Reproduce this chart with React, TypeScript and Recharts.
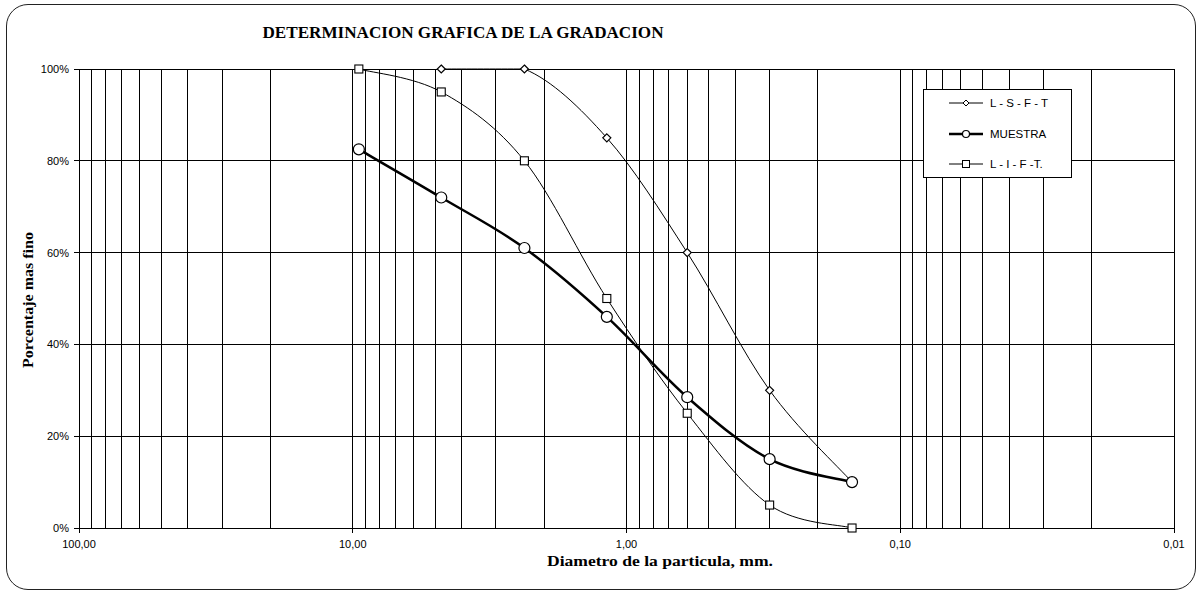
import React from 'react';
import { LineChart, Line, XAxis, YAxis, CartesianGrid, ReferenceLine, Legend } from 'recharts';

// sieve openings (mm) and passing percentages
const SIZES = [9.5, 4.75, 2.36, 1.18, 0.6, 0.3, 0.15];
const LSFT = [null, 100, 100, 85, 60, 30, 10];
const MUESTRA = [82.5, 72, 61, 46, 28.5, 15, 10];
const LIFT = [100, 95, 80, 50, 25, 5, 0];

const X_TICKS = [100, 10, 1, 0.1, 0.01];
const X_MINOR = [
  90, 80, 70, 60, 50, 40, 30, 20,
  9, 8, 7, 6, 5, 4, 3, 2,
  0.9, 0.8, 0.7, 0.6, 0.5, 0.4, 0.3, 0.2,
  0.09, 0.08, 0.07, 0.06, 0.05, 0.04, 0.03, 0.02,
];
const Y_TICKS = [0, 20, 40, 60, 80, 100];

const data = SIZES.map((size, i) => ({
  size,
  lsft: LSFT[i],
  muestra: MUESTRA[i],
  lift: LIFT[i],
}));

const SANS = '"Liberation Sans", Arial, sans-serif';
const SERIF = '"Liberation Serif", "Times New Roman", serif';

const clamp = (v: number, a: number, b: number) => Math.max(Math.min(a, b), Math.min(Math.max(a, b), v));

// excel-like smoothed line, control points kept inside each segment's y range
function excelCurve(context: any) {
  let pts: number[][] = [];
  return {
    areaStart() {},
    areaEnd() {},
    lineStart() {
      pts = [];
    },
    point(x: number, y: number) {
      pts.push([+x, +y]);
    },
    lineEnd() {
      if (!pts.length) return;
      context.moveTo(pts[0][0], pts[0][1]);
      for (let i = 0; i < pts.length - 1; i++) {
        const p0 = pts[i - 1] || pts[i];
        const p1 = pts[i];
        const p2 = pts[i + 1];
        const p3 = pts[i + 2] || p2;
        context.bezierCurveTo(
          p1[0] + (p2[0] - p0[0]) / 6,
          clamp(p1[1] + (p2[1] - p0[1]) / 6, p1[1], p2[1]),
          p2[0] - (p3[0] - p1[0]) / 6,
          clamp(p2[1] - (p3[1] - p1[1]) / 6, p1[1], p2[1]),
          p2[0],
          p2[1]
        );
      }
    },
  };
}

const Diamond = (props: any) => {
  const { cx, cy, key } = props;
  if (cx == null || cy == null || props.value == null) return <g key={key} />;
  const r = 4;
  return (
    <path
      key={key}
      d={`M${cx},${cy - r}L${cx + r},${cy}L${cx},${cy + r}L${cx - r},${cy}Z`}
      fill="#fff"
      stroke="#000"
      strokeWidth={1.2}
    />
  );
};

const Circle = (props: any) => {
  const { cx, cy, key } = props;
  if (cx == null || cy == null) return <g key={key} />;
  return <circle key={key} cx={cx} cy={cy} r={5.5} fill="#fff" stroke="#000" strokeWidth={1.2} />;
};

const Square = (props: any) => {
  const { cx, cy, key } = props;
  if (cx == null || cy == null) return <g key={key} />;
  return <rect key={key} x={cx - 4} y={cy - 4} width={8} height={8} fill="#fff" stroke="#000" strokeWidth={1.1} />;
};

const LEGEND_ROWS = [
  { name: 'L - S - F - T', width: 1, marker: 'diamond' },
  { name: 'MUESTRA', width: 2.5, marker: 'circle' },
  { name: 'L - I - F -T.', width: 1, marker: 'square' },
];

function renderLegend() {
  return (
    <div
      style={{
        width: 147,
        height: 87,
        border: '1px solid #000',
        background: '#fff',
        fontFamily: SANS,
        fontSize: 11.5,
        color: '#000',
      }}
    >
      {LEGEND_ROWS.map((row, i) => (
        <div key={row.name} style={{ position: 'absolute', left: 26, top: 5 + i * 30.5, height: 18, display: 'flex', alignItems: 'center' }}>
          <svg width={36} height={18}>
            <line x1={0} y1={9} x2={34} y2={9} stroke="#000" strokeWidth={row.width} />
            {row.marker === 'diamond' && <path d="M17,6L20,9L17,12L14,9Z" fill="#fff" stroke="#000" />}
            {row.marker === 'circle' && <circle cx={17} cy={9} r={3.5} fill="#fff" stroke="#000" strokeWidth={1.2} />}
            {row.marker === 'square' && <rect x={13.5} y={5.5} width={7} height={7} fill="#fff" stroke="#000" />}
          </svg>
          <span style={{ marginLeft: 5 }}>{row.name}</span>
        </div>
      ))}
    </div>
  );
}

export default function App() {
  return (
    <div style={{ position: 'absolute', left: 0, top: 0, width: 1202, height: 596, background: '#fff' }}>
      <div
        style={{
          position: 'absolute',
          left: 6,
          top: 4,
          width: 1188,
          height: 584,
          border: '1.5px solid #222',
          borderRadius: 22,
        }}
      />
      <LineChart width={1202} height={596} data={data} margin={{ top: 69, right: 28, left: 0, bottom: 0 }}>
        <CartesianGrid stroke="#000" strokeWidth={1} shapeRendering="crispEdges" />
        {X_MINOR.map((v) => (
          <ReferenceLine key={v} x={v} stroke="#000" strokeWidth={1} shapeRendering="crispEdges" />
        ))}
        <XAxis
          dataKey="size"
          type="number"
          scale="log"
          domain={[0.01, 100]}
          reversed
          ticks={X_TICKS}
          interval={0}
          tickFormatter={(v: number) => v.toFixed(2).replace('.', ',')}
          height={68}
          tickSize={5}
          tickMargin={7}
          axisLine={{ stroke: '#000', shapeRendering: 'crispEdges' }}
          tickLine={{ stroke: '#000', shapeRendering: 'crispEdges' }}
          tick={{ fill: '#000', fontSize: 11, fontFamily: SANS }}
        />
        <YAxis
          type="number"
          domain={[0, 100]}
          ticks={Y_TICKS}
          interval={0}
          tickFormatter={(v: number) => `${v}%`}
          width={79}
          tickSize={5}
          tickMargin={5}
          axisLine={{ stroke: '#000', shapeRendering: 'crispEdges' }}
          tickLine={{ stroke: '#000', shapeRendering: 'crispEdges' }}
          tick={{ fill: '#000', fontSize: 11, fontFamily: SANS }}
        />
        <Line
          dataKey="lsft"
          name="L - S - F - T"
          type={excelCurve as any}
          stroke="#000"
          strokeWidth={1}
          dot={Diamond}
          activeDot={false}
          isAnimationActive={false}
        />
        <Line
          dataKey="muestra"
          name="MUESTRA"
          type={excelCurve as any}
          stroke="#000"
          strokeWidth={2.5}
          dot={Circle}
          activeDot={false}
          isAnimationActive={false}
        />
        <Line
          dataKey="lift"
          name="L - I - F -T."
          type={excelCurve as any}
          stroke="#000"
          strokeWidth={1}
          dot={Square}
          activeDot={false}
          isAnimationActive={false}
        />
        <Legend
          layout="vertical"
          align="center"
          verticalAlign="middle"
          content={renderLegend}
          wrapperStyle={{ position: 'absolute', left: 923, top: 89, width: 149, height: 89, margin: 0 }}
        />
      </LineChart>
      <svg
        width={1202}
        height={596}
        style={{ position: 'absolute', left: 0, top: 0, pointerEvents: 'none' }}
      >
        <text
          x={463}
          y={38}
          textAnchor="middle"
          fontFamily={SERIF}
          fontWeight="bold"
          fontSize={16}
          textLength={401}
          lengthAdjust="spacingAndGlyphs"
        >
          DETERMINACION GRAFICA DE LA GRADACION
        </text>
        <text
          x={660}
          y={566}
          textAnchor="middle"
          fontFamily={SERIF}
          fontWeight="bold"
          fontSize={14}
          textLength={226}
          lengthAdjust="spacingAndGlyphs"
        >
          Diametro de la particula,  mm.
        </text>
        <text
          transform="translate(33,300) rotate(-90)"
          textAnchor="middle"
          fontFamily={SERIF}
          fontWeight="bold"
          fontSize={14}
          textLength={136}
          lengthAdjust="spacingAndGlyphs"
        >
          Porcentaje mas fino
        </text>
      </svg>
    </div>
  );
}
